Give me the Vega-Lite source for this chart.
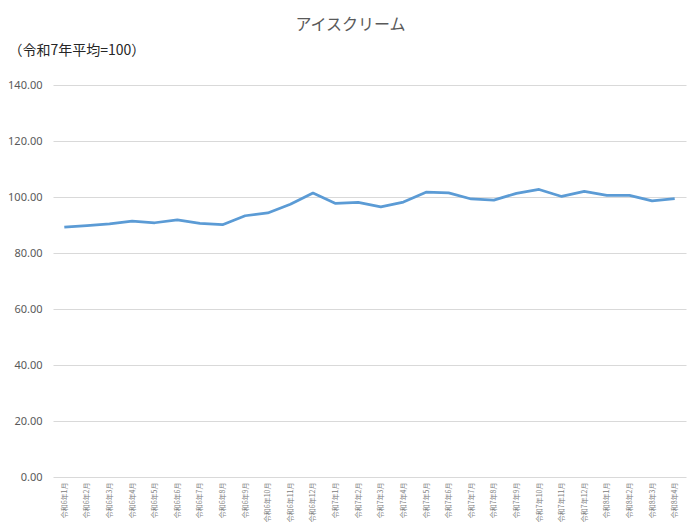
{
  "$schema": "https://vega.github.io/schema/vega-lite/v6.json",
  "autosize": "none",
  "width": 633,
  "height": 392,
  "padding": {"left": 53, "top": 85, "right": 14, "bottom": 50},
  "background": "white",
  "title": {
    "text": "アイスクリーム",
    "fontSize": 16,
    "fontWeight": "normal",
    "font": "Noto Sans CJK JP",
    "color": "#595959",
    "anchor": "middle",
    "dx": -19,
    "offset": 10
  },
  "data": {
    "values": [
      {"month": "令和6年1月", "index": 89.2},
      {"month": "令和6年2月", "index": 89.8},
      {"month": "令和6年3月", "index": 90.4},
      {"month": "令和6年4月", "index": 91.4},
      {"month": "令和6年5月", "index": 90.8},
      {"month": "令和6年6月", "index": 91.8},
      {"month": "令和6年7月", "index": 90.6},
      {"month": "令和6年8月", "index": 90.1},
      {"month": "令和6年9月", "index": 93.3},
      {"month": "令和6年10月", "index": 94.3},
      {"month": "令和6年11月", "index": 97.4},
      {"month": "令和6年12月", "index": 101.4},
      {"month": "令和7年1月", "index": 97.7},
      {"month": "令和7年2月", "index": 98.1},
      {"month": "令和7年3月", "index": 96.5},
      {"month": "令和7年4月", "index": 98.2},
      {"month": "令和7年5月", "index": 101.7},
      {"month": "令和7年6月", "index": 101.5},
      {"month": "令和7年7月", "index": 99.3},
      {"month": "令和7年8月", "index": 98.9},
      {"month": "令和7年9月", "index": 101.3},
      {"month": "令和7年10月", "index": 102.7},
      {"month": "令和7年11月", "index": 100.2},
      {"month": "令和7年12月", "index": 102.0},
      {"month": "令和8年1月", "index": 100.6},
      {"month": "令和8年2月", "index": 100.6},
      {"month": "令和8年3月", "index": 98.6},
      {"month": "令和8年4月", "index": 99.4}
    ]
  },
  "mark": {"type": "line", "color": "#5b9bd5", "strokeWidth": 2.75, "strokeJoin": "round"},
  "encoding": {
    "x": {
      "field": "month",
      "type": "ordinal",
      "sort": null,
      "scale": {"type": "point", "padding": 0.5},
      "axis": {
        "title": null,
        "labelAngle": -90,
        "labelFontSize": 7,
        "labelColor": "#808080",
        "labelFont": "Noto Sans CJK JP",
        "labelPadding": 5,
        "ticks": false,
        "domain": false,
        "grid": false
      }
    },
    "y": {
      "field": "index",
      "type": "quantitative",
      "scale": {"domain": [0, 140]},
      "axis": {
        "values": [0, 20, 40, 60, 80, 100, 120, 140],
        "format": ".2f",
        "labelFontSize": 11,
        "labelColor": "#595959",
        "labelFont": "Noto Sans",
        "labelPadding": 11,
        "ticks": false,
        "domain": false,
        "gridColor": "#d9d9d9",
        "title": "（令和7年平均=100）",
        "titleFont": "Noto Sans CJK JP",
        "titleFontSize": 14,
        "titleFontWeight": "normal",
        "titleColor": "#262626",
        "titleAngle": 0,
        "titleAlign": "left",
        "titleBaseline": "middle",
        "titleX": -45,
        "titleY": -35
      }
    }
  },
  "config": {
    "view": {"stroke": null}
  }
}
